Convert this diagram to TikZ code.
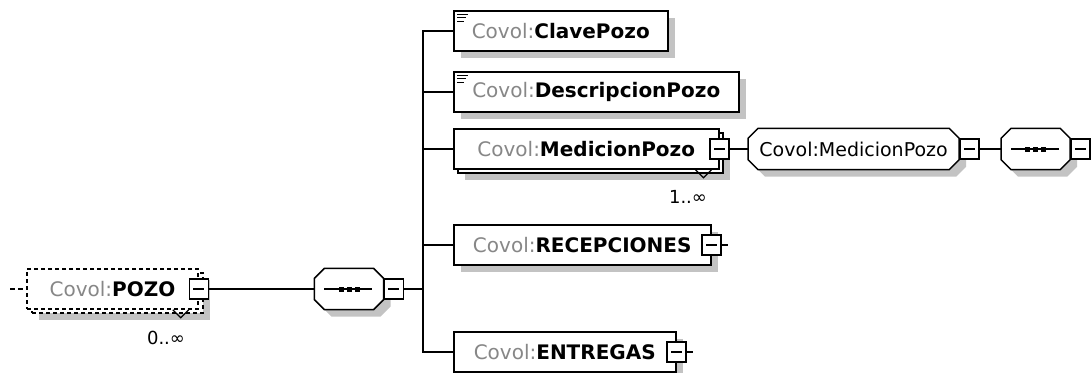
\documentclass[tikz,border=0pt]{standalone}
\usepackage{fontspec}
\newfontfamily\diagfont{DejaVu Sans}
\usetikzlibrary{shadows,positioning}
\definecolor{prefixgray}{RGB}{135,135,135}
\definecolor{shadowgray}{RGB}{195,195,195}
\newcommand{\covol}[1]{\textcolor{prefixgray}{Covol:}\textbf{#1}}
\newcommand{\octoline}[4]{\path[#4] ([xshift=#2+10pt,yshift=#3]#1.north west) -- ([xshift=#2-10pt,yshift=#3]#1.north east)
	-- ([xshift=#2,yshift=#3-10pt]#1.north east) -- ([xshift=#2,yshift=#3+10pt]#1.south east)
	-- ([xshift=#2-10pt,yshift=#3]#1.south east) -- ([xshift=#2+10pt,yshift=#3]#1.south west)
	-- ([xshift=#2,yshift=#3+10pt]#1.south west) -- ([xshift=#2,yshift=#3-10pt]#1.north west) -- cycle;}
\newcommand{\octoshape}[1]{\octoline{#1}{7pt}{-7pt}{fill=shadowgray}\octoline{#1}{0pt}{0pt}{draw, fill=white, line width=1.5pt}}

\begin{document}
\begin{tikzpicture}[x=1pt, y=-1pt, line width=1.2pt,
	elem/.style={draw, fill=white, line width=1.5pt, rectangle, minimum height=40pt, inner sep=0pt, font=\diagfont\fontsize{20}{24}\selectfont},
	octo/.style={rectangle, minimum height=40pt, inner sep=0pt},
	typetext/.style={inner sep=0pt, font=\diagfont\fontsize{19}{22}\selectfont},
	shade/.style={drop shadow={shadow xshift=7pt, shadow yshift=-7pt, fill=shadowgray, opacity=1}},
	optional/.style={dash pattern=on 4pt off 3pt},
	minusbox/.style={draw, fill=white, line width=1.3pt, minimum width=19pt, minimum height=20pt, inner sep=0pt,
		path picture={\draw[line width=1.3pt] ([xshift=4pt]path picture bounding box.west) -- ([xshift=-4pt]path picture bounding box.east);}},
	mult/.style={font=\diagfont\fontsize{18}{20}\selectfont, inner sep=0pt}]

	\useasboundingbox (0,0) rectangle (1091,372);

	%element POZO

	\node[elem, optional, shade, minimum width=171pt] (pozoback) at (117.5,293) {};
	\node[elem, optional, minimum width=171pt] (pozo) at (112.5,289) {\covol{POZO}};
	\node[minusbox] (pozominus) at (pozo.east) {};
	\coordinate (pozoin) at (10,289);
	\draw[dash pattern=on 5pt off 3pt] (pozoin) -- (pozo.west);
	\draw (pozo.south east) ++(-26,0) -- ++(8,8) -- ++(8,-8);
	\node[mult] (pozomult) at (166,338) {0..∞};

	%sequence 1

	\node[octo, minimum width=68pt] (seq) at (349,289) {};
	\octoshape{seq}
	\draw (seq.west) ++(10,0) -- ++(48,0);
	\foreach \d in {-8,0,8}
		\fill[shift={(seq.center)}] (\d-2.5,-2.5) rectangle (\d+2.5,2.5);
	\node[minusbox, anchor=west] (seqminus) at (seq.east) {};
	\draw (pozominus) -- (seq);
	\draw (seqminus.east) -- ++(19,0) coordinate (fork);

	%children

	\node[elem, shade, minimum width=214pt, anchor=west] (clave) at (453,31) {\covol{ClavePozo}};
	\node[elem, shade, minimum width=285pt, anchor=west] (descr) at (453,92) {\covol{DescripcionPozo}};
	\node[elem, shade, minimum width=265pt, anchor=west] (medback) at (457,153) {};
	\node[elem, minimum width=265pt, anchor=west] (med) at (453,149) {\covol{MedicionPozo}};
	\node[minusbox] (medminus) at (med.east) {};
	\draw (med.south east) ++(-24,0) -- ++(8,8) -- ++(8,-8);
	\node[mult] (medmult) at (688,197) {1..∞};
	\node[elem, shade, minimum width=257pt, anchor=west] (recep) at (453,245) {\covol{RECEPCIONES}};
	\node[minusbox] (recepminus) at (recep.east) {};
	\draw (recepminus.east) -- ++(6,0);
	\node[elem, shade, minimum width=222pt, anchor=west] (entr) at (453,352) {\covol{ENTREGAS}};
	\node[minusbox] (entrminus) at (entr.east) {};
	\draw (entrminus.east) -- ++(6,0);

	\foreach \n in {clave,descr,med,recep,entr}
		\draw (fork) |- (\n.west);

	\foreach \n in {clave,descr}
		\foreach \y/\l in {4/11,7.5/9,11/7}
			\draw[line width=1.2pt] (\n.north west) ++(4,\y) -- ++(\l,0);

	%type MedicionPozo

	\node[octo, minimum width=210pt, anchor=west] (medtype) at (748,149) {};
	\octoshape{medtype}
	\node[typetext] (medtypetext) at (medtype.center) {Covol:MedicionPozo};
	\node[minusbox, anchor=west] (medtypeminus) at (medtype.east) {};
	\draw (medminus) -- (medtype);

	%sequence 2

	\node[octo, minimum width=68pt, anchor=west] (seqb) at (1001,149) {};
	\octoshape{seqb}
	\draw (seqb.west) ++(10,0) -- ++(48,0);
	\foreach \d in {-8,0,8}
		\fill[shift={(seqb.center)}] (\d-2.5,-2.5) rectangle (\d+2.5,2.5);
	\node[minusbox, anchor=west] (seqbminus) at (seqb.east) {};
	\draw (medtypeminus) -- (seqb);

\end{tikzpicture}
\end{document}
